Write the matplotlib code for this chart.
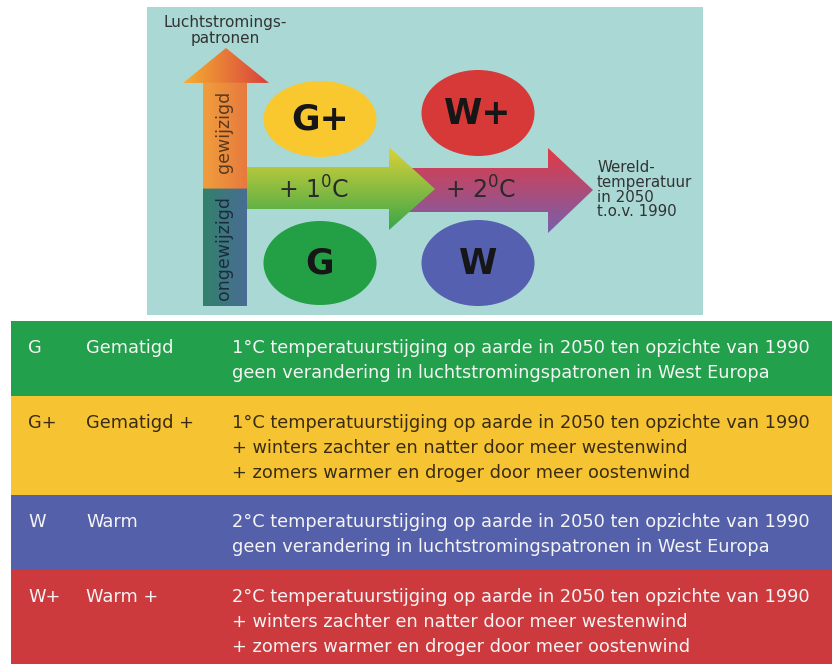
import numpy as np
import matplotlib
matplotlib.use("Agg")
import matplotlib.pyplot as plt
from matplotlib.patches import Polygon, Rectangle, Ellipse

# scenario data
codes = ["G", "G+", "W", "W+"]
names = ["Gematigd", "Gematigd +", "Warm", "Warm +"]
descriptions = [
    ["1°C temperatuurstijging op aarde in 2050 ten opzichte van 1990",
     "geen verandering in luchtstromingspatronen in West Europa"],
    ["1°C temperatuurstijging op aarde in 2050 ten opzichte van 1990",
     "+ winters zachter en natter door meer westenwind",
     "+ zomers warmer en droger door meer oostenwind"],
    ["2°C temperatuurstijging op aarde in 2050 ten opzichte van 1990",
     "geen verandering in luchtstromingspatronen in West Europa"],
    ["2°C temperatuurstijging op aarde in 2050 ten opzichte van 1990",
     "+ winters zachter en natter door meer westenwind",
     "+ zomers warmer en droger door meer oostenwind"],
]
row_colors = ["#22a04b", "#f6c433", "#5560aa", "#cd3a3e"]
text_colors = ["#f4f4f4", "#3a2c14", "#f4f4f4", "#f4f4f4"]

ellipse_labels = ["G+", "W+", "G", "W"]
ellipse_colors = ["#f9c82e", "#d73838", "#23a046", "#5560b0"]

axis_label = ["Luchtstromings-", "patronen"]
vert_labels = ["gewijzigd", "ongewijzigd"]
step_labels = ["+ 1$^0$C", "+ 2$^0$C"]
temp_label = ["Wereld-", "temperatuur", "in 2050", "t.o.v. 1990"]

W, H = 832, 664
plt.rcParams["font.family"] = ["DejaVu Sans"]
plt.rcParams["mathtext.fontset"] = "dejavusans"
fig = plt.figure(figsize=(W / 100, H / 100), dpi=100)
ax = fig.add_axes([0, 0, 1, 1])
fig.patch.set_facecolor("white")


def gradient_fill(verts, color_fn, z):
    poly = Polygon(verts, closed=True, facecolor="none", edgecolor="none", zorder=z)
    ax.add_patch(poly)
    xs = [v[0] for v in verts]
    ys = [v[1] for v in verts]
    x0, x1, y0, y1 = min(xs), max(xs), min(ys), max(ys)
    u, v = np.meshgrid(np.linspace(0, 1, 200), np.linspace(0, 1, 200))
    img = color_fn(u, v)
    im = ax.imshow(img, extent=(x0, x1, y1, y0), origin="upper",
                   interpolation="bilinear", aspect="auto", zorder=z)
    im.set_clip_path(poly)


def mix(c0, c1, t):
    c0 = np.array(c0) / 255.0
    c1 = np.array(c1) / 255.0
    return c0[None, None, :] * (1 - t[..., None]) + c1[None, None, :] * t[..., None]


# top panel background
ax.add_patch(Rectangle((147, 7), 556, 308, facecolor="#a9d8d5", edgecolor="none", zorder=0))

# vertical arrow (luchtstromingspatronen)
split = 189
vert_arrow = [(203, 306), (203, 83), (183, 83), (226, 48), (269, 83), (247, 83), (247, 306)]
t_split = (split - 48) / (306 - 48)
t_head = (83 - 48) / (306 - 48)


def vert_colors(u, v):
    head = mix((246, 176, 50), (216, 64, 62), u)
    top = mix((245, 174, 60), (226, 104, 62), u)
    bot = mix((40, 138, 88), (84, 98, 170), u)
    out = np.where((v > t_split)[..., None], bot, top)
    return np.where((v < t_head)[..., None], head, out)


gradient_fill(vert_arrow, vert_colors, 2)

# horizontal arrows
arrow2 = [(405, 168), (548, 168), (548, 148), (593, 190), (548, 233), (548, 212), (405, 212)]
gradient_fill(arrow2, lambda u, v: mix((226, 58, 70), (118, 96, 172), v), 2)
arrow1 = [(247, 167), (389, 167), (389, 147), (435, 189), (389, 230), (389, 209), (247, 209)]
gradient_fill(arrow1, lambda u, v: mix((220, 210, 56), (56, 166, 74), v), 3)

# ellipses
ell_xy = [(320, 119), (478, 113), (320, 263), (478, 263)]
ell_h = [76, 86, 84, 86]
for (cx, cy), hh, lab, col in zip(ell_xy, ell_h, ellipse_labels, ellipse_colors):
    ax.add_patch(Ellipse((cx, cy), 113, hh, facecolor=col, edgecolor="none", zorder=4))
    ax.text(cx, cy + 1, lab, ha="center", va="center", fontsize=25, fontweight="bold",
            color="#161616", zorder=5)

# labels in diagram
ax.text(225, 23, axis_label[0], ha="center", va="center", fontsize=11, color="#333333", zorder=5)
ax.text(225, 38, axis_label[1], ha="center", va="center", fontsize=11, color="#333333", zorder=5)
ax.text(224, 132, vert_labels[0], ha="center", va="center", rotation=90, fontsize=12.5,
        color="#5a3a1e", zorder=5)
ax.text(224, 248, vert_labels[1], ha="center", va="center", rotation=90, fontsize=12.5,
        color="#1c2c3c", zorder=5)
ax.text(314, 190, step_labels[0], ha="center", va="center", fontsize=17, color="#2a2a2a", zorder=6)
ax.text(481, 190, step_labels[1], ha="center", va="center", fontsize=17, color="#2a2a2a", zorder=6)
for i, line in enumerate(temp_label):
    ax.text(597, 168 + i * 14.5, line, ha="left", va="center", fontsize=10.8,
            color="#333333", zorder=5)

# table
bounds = [321, 396, 495, 570, 664]
for i in range(4):
    top, bot = bounds[i], bounds[i + 1]
    ax.add_patch(Rectangle((11, top), W - 11, bot - top, facecolor=row_colors[i],
                           edgecolor="none", zorder=1))
    base = top + 32
    tc = text_colors[i]
    ax.text(28, base, codes[i], ha="left", va="baseline", fontsize=12.8, color=tc)
    ax.text(86, base, names[i], ha="left", va="baseline", fontsize=12.8, color=tc)
    for j, line in enumerate(descriptions[i]):
        ax.text(232, base + j * 25, line, ha="left", va="baseline", fontsize=12.8, color=tc)

ax.set_xlim(0, W)
ax.set_ylim(H, 0)
ax.axis("off")
fig.savefig("out.png", dpi=100)
